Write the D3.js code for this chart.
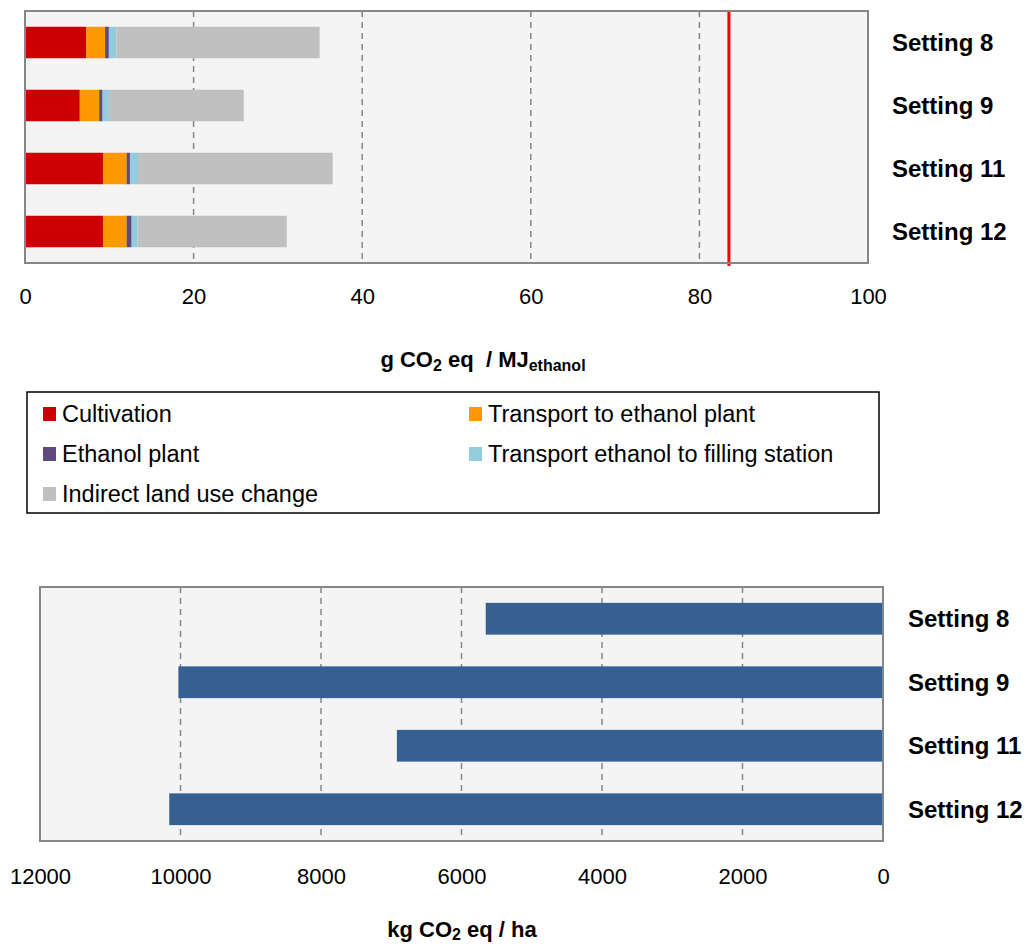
<!DOCTYPE html>
<html><head><meta charset="utf-8">
<script src="https://cdn.jsdelivr.net/npm/d3@7"></script>
<style>body{margin:0;background:#fff;font-family:"Liberation Sans",Arial,sans-serif}</style>
</head><body>
<svg id="c" width="1035" height="947"></svg>
<script>
const settings = ["Setting 8","Setting 9","Setting 11","Setting 12"];
const stages = ["Cultivation","Transport to ethanol plant","Ethanol plant","Transport ethanol to filling station","Indirect land use change"];
const stageColors = ["#cc0000","#ff9900","#604a7b","#93cddd","#c0c0c0"];
const cultivation = [7.25, 6.5, 9.25, 9.25];
const transportPlant = [2.25, 2.3, 2.8, 2.8];
const ethanolPlant = [0.45, 0.4, 0.4, 0.6];
const transportStation = [0.9, 0.75, 0.95, 0.7];
const iluc = [24.1, 16.0, 23.1, 17.7];
const fossilRef = 83.5;
const topTicks = [0,20,40,60,80,100];
const perHa = [5655, 10030, 6920, 10160];
const bottomTicks = [12000,10000,8000,6000,4000,2000,0];

const svg = d3.select("#c");
const gridC = "#868686";
const FONT = "Liberation Sans, Arial, sans-serif";

// ---------- Top chart ----------
const tL=25, tR=868, tT=11, tB=263;
const x1 = d3.scaleLinear().domain([0,100]).range([tL,tR]);
const y1 = d3.scaleBand().domain(settings).range([tT,tB]).paddingInner(0.5).paddingOuter(0.25);
const gTop = svg.append("g");
gTop.append("rect").attr("x",tL).attr("y",tT).attr("width",tR-tL).attr("height",tB-tT).attr("fill","#f4f4f4");
gTop.selectAll(".g1").data(topTicks.filter(d=>d>0)).join("line")
  .attr("x1",d=>x1(d)).attr("x2",d=>x1(d)).attr("y1",tT).attr("y2",tB)
  .attr("stroke",gridC).attr("stroke-width",1.5).attr("stroke-dasharray","6,5");
const seriesArr = [cultivation,transportPlant,ethanolPlant,transportStation,iluc];
const rows = settings.map((s,i)=>{const o={setting:s}; stages.forEach((k,j)=>o[k]=seriesArr[j][i]); return o;});
const stack = d3.stack().keys(stages)(rows);
stack.forEach((layer,j)=>{
  gTop.selectAll(".s"+j).data(layer).join("rect")
    .attr("x",d=>x1(d[0])).attr("width",d=>x1(d[1])-x1(d[0]))
    .attr("y",d=>y1(d.data.setting)).attr("height",y1.bandwidth())
    .attr("fill",stageColors[j]);
});
gTop.append("line").attr("x1",x1(fossilRef)).attr("x2",x1(fossilRef)).attr("y1",tT).attr("y2",tB+3)
  .attr("stroke","#ff0000").attr("stroke-width",3);
gTop.append("rect").attr("x",tL).attr("y",tT).attr("width",tR-tL).attr("height",tB-tT)
  .attr("fill","none").attr("stroke",gridC).attr("stroke-width",2);
const ax1 = d3.axisBottom(x1).tickValues(topTicks).tickSize(0).tickPadding(0);
gTop.append("g").attr("transform",`translate(0,${tB+41})`).call(ax1)
  .call(g=>g.select(".domain").remove())
  .selectAll("text").attr("font-size",22).attr("font-family",FONT).attr("fill","#000").attr("dy","0");
gTop.selectAll(".lab1").data(settings).join("text")
  .attr("x",892).attr("y",d=>y1(d)+y1.bandwidth()/2+8.5).text(d=>d)
  .attr("font-size",24).attr("font-weight","bold").attr("fill","#000");
const t1 = svg.append("text").attr("x",483).attr("y",367).attr("text-anchor","middle")
  .attr("font-size",22).attr("font-weight","bold");
t1.append("tspan").text("g CO");
t1.append("tspan").text("2").attr("font-size",16).attr("dy",4);
t1.append("tspan").text(" eq  / MJ").attr("dy",-4).attr("xml:space","preserve").style("white-space","pre");
t1.append("tspan").text("ethanol").attr("font-size",16).attr("dy",4);

// ---------- Legend ----------
const lg = svg.append("g");
lg.append("rect").attr("x",27).attr("y",392).attr("width",852).attr("height",121)
  .attr("fill","#fff").attr("stroke","#000").attr("stroke-width",1.5);
const legPos = [[43,414],[469,414],[43,454],[469,454],[43,494]];
stages.forEach((s,j)=>{
  const [lx,ly]=legPos[j];
  lg.append("rect").attr("x",lx).attr("y",ly-7).attr("width",13).attr("height",14).attr("fill",stageColors[j]);
  lg.append("text").attr("x",lx+19).attr("y",ly+8).text(s).attr("font-size",23.5).attr("fill","#000");
});

// ---------- Bottom chart ----------
const bL=40, bR=883, bT=587, bB=841;
const x2 = d3.scaleLinear().domain([12000,0]).range([bL,bR]);
const y2 = d3.scaleBand().domain(settings).range([bT,bB]).paddingInner(0.5).paddingOuter(0.25);
const gBot = svg.append("g");
gBot.append("rect").attr("x",bL).attr("y",bT).attr("width",bR-bL).attr("height",bB-bT).attr("fill","#f4f4f4");
gBot.selectAll(".g2").data(bottomTicks.filter(d=>d>0)).join("line")
  .attr("x1",d=>x2(d)).attr("x2",d=>x2(d)).attr("y1",bT).attr("y2",bB)
  .attr("stroke",gridC).attr("stroke-width",1.5).attr("stroke-dasharray","6,5");
gBot.selectAll(".b2").data(settings).join("rect")
  .attr("x",(d,i)=>x2(perHa[i])).attr("width",(d,i)=>x2(0)-x2(perHa[i]))
  .attr("y",d=>y2(d)).attr("height",y2.bandwidth()).attr("fill","#366092");
gBot.append("rect").attr("x",bL).attr("y",bT).attr("width",bR-bL).attr("height",bB-bT)
  .attr("fill","none").attr("stroke",gridC).attr("stroke-width",2);
const ax2 = d3.axisBottom(x2).tickValues(bottomTicks).tickFormat(d3.format("d")).tickSize(0).tickPadding(0);
gBot.append("g").attr("transform",`translate(0,${bB+43})`).call(ax2)
  .call(g=>g.select(".domain").remove())
  .selectAll("text").attr("font-size",22).attr("font-family",FONT).attr("fill","#000").attr("dy","0");
gBot.selectAll(".lab2").data(settings).join("text")
  .attr("x",908).attr("y",d=>y2(d)+y2.bandwidth()/2+8.5).text(d=>d)
  .attr("font-size",24).attr("font-weight","bold").attr("fill","#000");
const t2 = svg.append("text").attr("x",462).attr("y",937).attr("text-anchor","middle")
  .attr("font-size",22).attr("font-weight","bold");
t2.append("tspan").text("kg CO");
t2.append("tspan").text("2").attr("font-size",16).attr("dy",3);
t2.append("tspan").text(" eq / ha").attr("dy",-3);
</script>
</body></html>
